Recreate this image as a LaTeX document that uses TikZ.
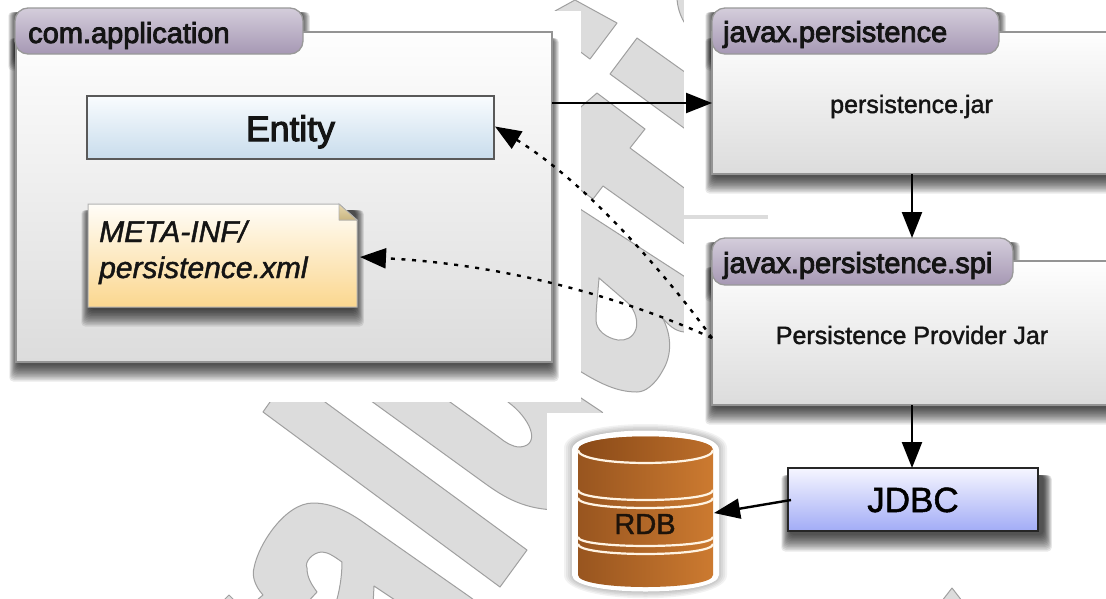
\documentclass[tikz,border=0pt]{standalone}
\usepackage{fontspec}
\setmainfont{Liberation Sans}
\newfontfamily\semibf[FakeBold=3]{Liberation Sans}
\newfontfamily\midbf[FakeBold=1.5]{Liberation Sans}
\newfontfamily\midit[FakeBold=1.5,ItalicFont={Liberation Sans Italic}]{Liberation Sans}
\usetikzlibrary{arrows.meta,calc}
\definecolor{wmfill}{HTML}{DCDCDC}
\definecolor{wmline}{HTML}{A0A0A0}
\colorlet{boxline}{black!42}
\definecolor{boxtop}{HTML}{FEFEFE}
\definecolor{boxbot}{HTML}{DCDCDC}
\colorlet{tabline}{black!40}
\definecolor{tabtop}{HTML}{D4CDDB}
\definecolor{tabbot}{HTML}{A698B4}
\definecolor{enttop}{HTML}{F9FCFE}
\definecolor{entbot}{HTML}{C8DCEC}
\definecolor{notetop}{HTML}{FFFDF8}
\definecolor{notebot}{HTML}{FBD78F}
\definecolor{foldtop}{HTML}{E6D8B0}
\definecolor{foldbot}{HTML}{C9B580}
\definecolor{jdbctop}{HTML}{F6F6FF}
\definecolor{jdbcbot}{HTML}{A2ACF6}
\definecolor{rdbl}{HTML}{98551F}
\definecolor{rdbr}{HTML}{CC7A30}
\definecolor{rdbtopl}{HTML}{8A4A18}
\definecolor{rdbtopr}{HTML}{BC6E2A}
\definecolor{rdbband}{HTML}{FFF4E4}
\tikzset{
  wm/.style={fill=wmfill,draw=wmline,line width=1pt,line join=round},
  pkgbox/.style={rectangle,draw=boxline,line width=1.6pt,top color=boxtop,bottom color=boxbot,inner sep=0pt,outer sep=0pt,anchor=north west},
  pkgtab/.style={rectangle,rounded corners=13pt,draw=tabline,line width=1.3pt,top color=tabtop,bottom color=tabbot,inner sep=0pt,outer sep=0pt,anchor=north west},
  headtxt/.style={anchor=base west,inner sep=0pt,text=black!92,font=\semibf\fontsize{29}{32}\selectfont},
  bodytxt/.style={anchor=base,inner sep=0pt,text=black!92,font=\midbf\fontsize{25}{28}\selectfont},
  solidarrow/.style={line width=2.4pt,-{Triangle[length=26pt,width=20pt]}},
  dotarrow/.style={line width=2.4pt,dash pattern=on 4pt off 6.6pt,-{Triangle[length=26pt,width=20pt]}},
  bandline/.style={draw=rdbband,line width=2.2pt}
}
\newcommand{\softshadow}[5]{%
  \foreach \s in {-3,-1.5,0,1.5,3,4.5,6,7.5,9,10.5,12,13.5}{%
    \fill[black,opacity=.085,rounded corners=4pt] ({#1-0.5*\s},{#2+#5}) rectangle ({#3+0.5*\s},{#4+#5+\s});
  }%
}
\newcommand{\bandarc}[2]{%
  \draw[bandline] (578,#1) .. controls (578,{#1+1.33*#2}) and (713,{#1+1.33*#2}) .. (713,#1);%
}
\begin{document}
\begin{tikzpicture}[x=1pt,y=-1pt]
\useasboundingbox (0,0) rectangle (1106,598);
\clip (0,0) rectangle (1106,598);
\fill[white] (0,0) rectangle (1106,598);

% watermark
\draw[wm] (555,11) -- (575,0) -- (617,23) -- (590,59) -- (555,33) -- cycle;
\draw[wm] (677,-3) .. controls (677,6) and (680,15) .. (684,22) -- (710,30) -- (710,-3) -- cycle;
\draw[wm] (637,38) -- (710,90) -- (710,147) -- (610,74) -- cycle;
\draw[wm] (597,93) -- (645,129) -- (630,148) -- (710,207) -- (710,262) -- (603,186) -- (593,199) -- (560,175) -- (560,125) -- cycle;
\draw[wm] (560,196) -- (710,293) -- (710,335) -- (684,332)
  .. controls (675,331) and (668,325) .. (662,317)
  .. controls (672,335) and (672,355) .. (663,370)
  .. controls (655,385) and (645,392) .. (637,392)
  .. controls (615,392) and (595,382) .. (560,358) -- cycle;
\fill[white,draw=wmline,line width=1pt] (599,278) -- (628,303)
  .. controls (636,311) and (638,322) .. (636,329)
  .. controls (633,338) and (625,341) .. (618,340)
  .. controls (606,338) and (596,330) .. (596,320)
  .. controls (596,308) and (598,292) .. (599,278) -- cycle;
\draw[wm] (270,402) -- (263,412) -- (500,587) -- (527,550) -- (325,402) -- (300,380) -- (280,380) -- cycle;
\draw[wm] (345,382) -- (483,482) .. controls (505,498) and (525,510) .. (560,510)
  -- (620,510) -- (620,440) -- (602,412) -- (581,398) -- (555,380) -- (490,385) -- (508,402)
  .. controls (530,418) and (542,445) .. (520,447)
  .. controls (512,447) and (505,442) .. (500,438) -- (425,384) -- cycle;
\draw[wm] (250,606) -- (263,595) .. controls (254,585) and (252,575) .. (254,568)
  .. controls (258,545) and (285,503) .. (313,503)
  .. controls (330,503) and (345,510) .. (360,520)
  -- (470,597) -- (482,606) -- (404,606) -- (374,586) -- (373,606) -- (335,606)
  .. controls (340,590) and (342,575) .. (342,562)
  .. controls (335,557) and (328,552) .. (322,552)
  .. controls (313,552) and (304,562) .. (307,568)
  .. controls (307,578) and (312,585) .. (317,592) -- (304,606) -- cycle;
\draw[wm] (229,595) -- (218,606) -- (240,606) -- cycle;
\draw[wm] (952,588) -- (938,606) -- (966,606) -- cycle;

% white tiles of the picture
\fill[white] (0,11) rectangle (581,402);
\fill[white] (684,-2) rectangle (1110,215);
\fill[white] (684,219) rectangle (1110,420);
\fill[white] (547,413) rectangle (1110,585);
\fill[wmfill] (684,215) rectangle (768,219);

% com.application
\softshadow{16}{32}{552}{362}{6}
\softshadow{15}{9}{303}{54}{3}
\node[pkgbox,minimum width=536pt,minimum height=330pt] (comapp) at (16,32) {};
\node[pkgtab,minimum width=288pt,minimum height=46pt] (comtab) at (15,8) {};
\node[headtxt] (comtxt) at (28,43) {com.application};

\node[rectangle,draw=black!65,line width=1.3pt,top color=enttop,bottom color=entbot,anchor=north west,inner sep=0pt,outer sep=0pt,minimum width=407pt,minimum height=63pt] (entity) at (87,96) {};
\node[anchor=base,inner sep=0pt,text=black!92,font=\semibf\fontsize{35.5}{38}\selectfont] (entitytxt) at (290.5,141) {Entity};

\softshadow{88}{204}{357}{307}{6}
\fill[top color=notetop,bottom color=notebot]
  (88,204) -- (339,204) -- (357,220) -- (357,307) -- (88,307) -- cycle;
\draw[black!30,line width=1pt] (88,204) -- (339,204) -- (357,220) -- (357,307) -- (88,307) -- cycle;
\fill[top color=foldtop,bottom color=foldbot,draw=black!30,line width=.8pt] (339,204) -- (357,220) -- (339,220) -- cycle;
\coordinate (note) at (360,257);
\node[anchor=base west,inner sep=0pt,align=left,text=black!92,font=\midit\itshape\fontsize{30}{36}\selectfont] (notetxt) at (99,278) {META-INF/\\persistence.xml};

% javax.persistence
\softshadow{712}{32}{1130}{174}{6}
\softshadow{712}{9}{999}{54}{3}
\node[pkgbox,minimum width=420pt,minimum height=142pt] (japi) at (712,32) {};
\node[pkgtab,minimum width=287pt,minimum height=46pt] (japitab) at (712,8) {};
\node[headtxt] (japitxt) at (723,42) {javax.persistence};
\node[bodytxt] (japijar) at (911.5,113) {persistence.jar};

% javax.persistence.spi
\softshadow{712}{261}{1130}{405}{6}
\softshadow{712}{239}{1013}{285}{3}
\node[pkgbox,minimum width=420pt,minimum height=144pt] (spi) at (712,261) {};
\node[pkgtab,minimum width=301pt,minimum height=47pt] (spitab) at (712,238) {};
\node[headtxt] (spitxt) at (723,273) {javax.persistence.spi};
\node[bodytxt] (spijar) at (912,344) {Persistence Provider Jar};

% JDBC
\softshadow{788}{468}{1045}{531}{7}
\node[rectangle,draw=black!85,line width=1.2pt,top color=jdbctop,bottom color=jdbcbot,anchor=north west,inner sep=0pt,outer sep=0pt,minimum width=250pt,minimum height=63pt] (jdbc) at (788,468) {};
\node[anchor=base,inner sep=0pt,text=black,font=\midbf\fontsize{35}{38}\selectfont] (jdbctxt) at (913,512) {JDBC};

% RDB
\foreach \s in {1,3,5,7,9}{%
  \fill[black,opacity=.05] ({573-\s},{448}) -- ({573-\s},{575}) .. controls ({573-\s},{597+\s}) and ({718+\s},{597+\s}) .. ({718+\s},575) -- ({718+\s},448) .. controls ({718+\s},{425-\s}) and ({573-\s},{425-\s}) .. ({573-\s},448) -- cycle;
}
\fill[white] (572,450) .. controls (572,424) and (719,424) .. (719,450) -- (719,575) .. controls (719,597) and (572,597) .. (572,575) -- cycle;
\shade[left color=rdbl,right color=rdbr]
  (578,450) .. controls (578,432) and (713,432) .. (713,450) -- (713,575) .. controls (713,591) and (578,591) .. (578,575) -- cycle;
\shade[left color=rdbtopl,right color=rdbtopr] (578,450) .. controls (578,432) and (713,432) .. (713,450) .. controls (713,468) and (578,468) .. (578,450) -- cycle;
\bandarc{450}{13}
\bandarc{490}{10}
\bandarc{498}{10}
\bandarc{537}{9}
\bandarc{544}{10}
\node[anchor=base,inner sep=0pt,text=black!85!brown,font=\midbf\fontsize{29}{30}\selectfont] (rdbtxt) at (645,534) {RDB};
\coordinate (rdbport) at (714,513);

% connectors
\draw[solidarrow] ([yshift=-71pt]comapp.north east) -- ([yshift=-71pt]japi.north west);
\draw[solidarrow] (japi.south -| spijar) -- (spijar |- spitab.north);
\draw[solidarrow] (spi.south -| spijar) -- (jdbc.north -| spijar);
\draw[solidarrow] ([xshift=3pt,yshift=-0.5pt]jdbc.west) -- (rdbport);
\draw[dotarrow] ([yshift=-5pt]spi.west) .. controls (670,280) and (590,185) .. ([xshift=1pt,yshift=1pt]entity.east);
\draw[dotarrow] ([yshift=-5pt]spi.west) .. controls (640,305) and (520,265) .. (note);
\end{tikzpicture}
\end{document}
